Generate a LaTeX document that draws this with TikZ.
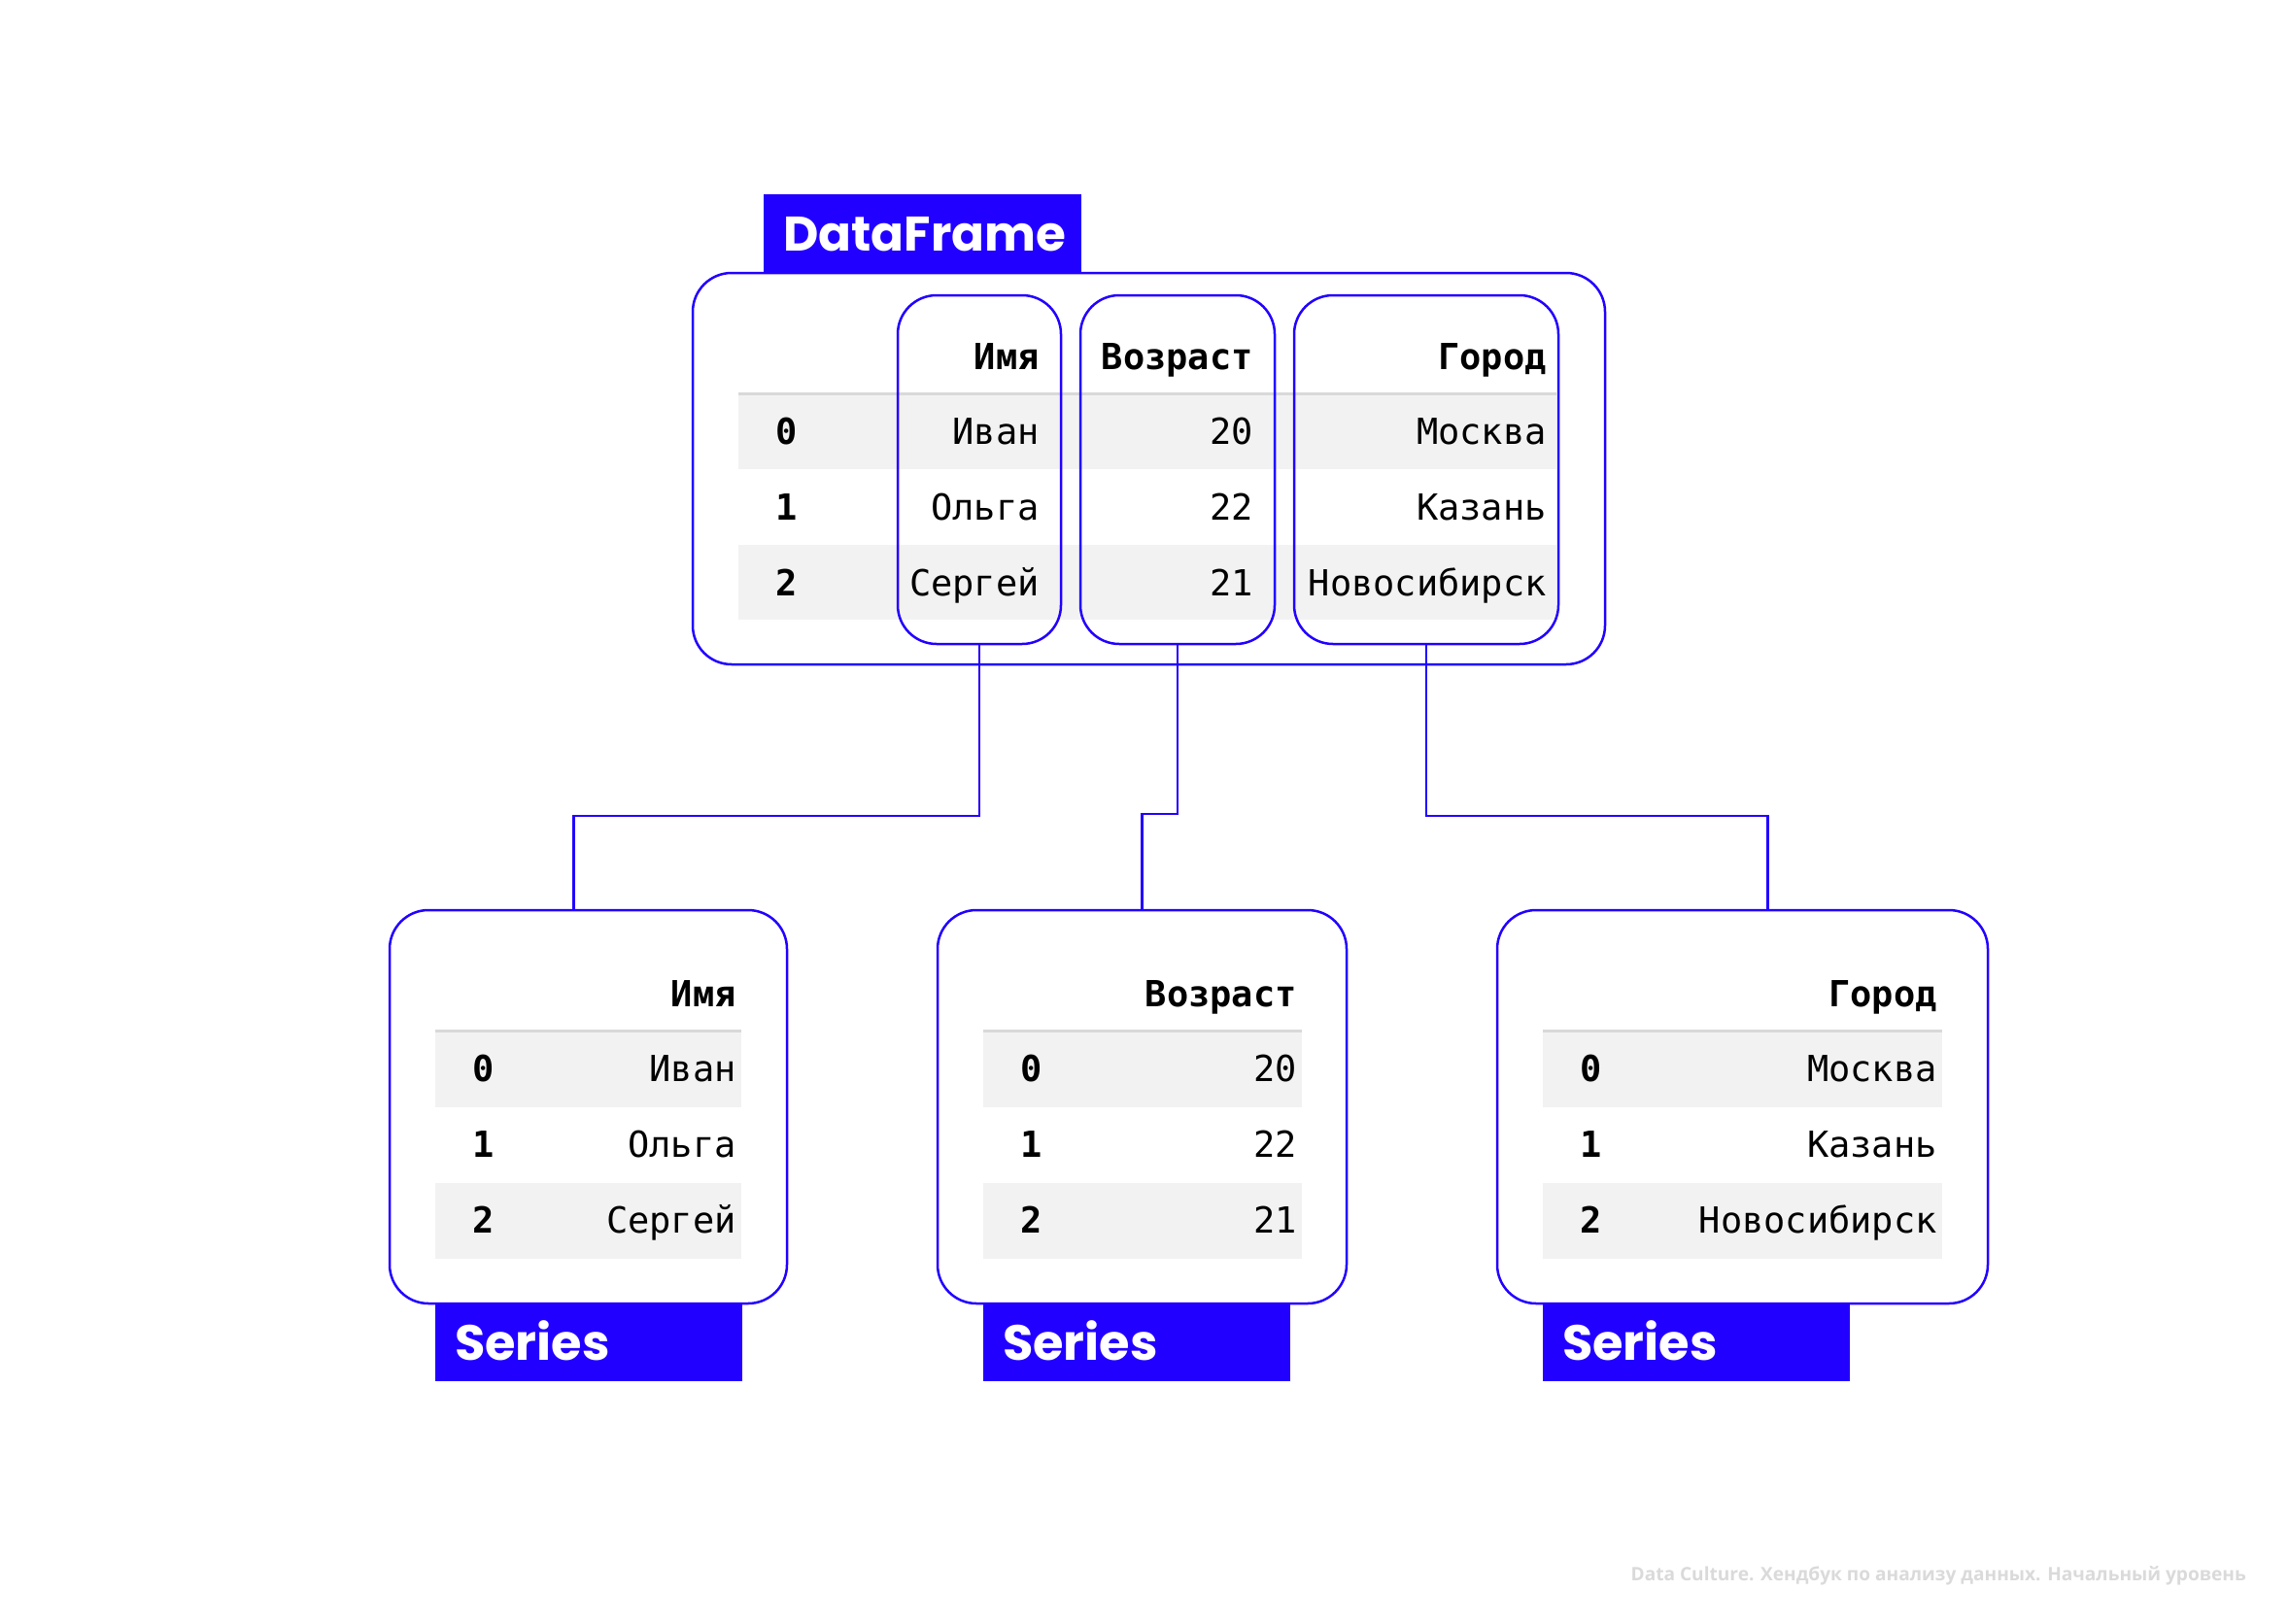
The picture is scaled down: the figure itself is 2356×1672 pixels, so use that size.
\documentclass[tikz,border=0pt]{standalone}
\usepackage{fontspec}
\usepackage{tikz}
\setmonofont{DejaVu Sans Mono}
\newfontfamily\tagfont{Poppins}
\newfontfamily\creditfont{Open Sans}
\definecolor{dcblue}{RGB}{34,0,255}
\definecolor{stripegray}{RGB}{242,242,242}
\definecolor{rulegray}{RGB}{217,217,217}
\definecolor{creditgray}{RGB}{218,218,218}

\begin{document}
\begin{tikzpicture}[
x=1pt,y=-1pt,
frame/.style={
  draw=dcblue,
  line width=2.5pt,
  rounded corners=40pt,
  inner sep=0pt
},
tag/.style={
  fill=dcblue,
  text=white,
  font=\tagfont\bfseries\fontsize{51}{60}\selectfont,
  anchor=north west,
  inner xsep=20pt,
  inner ysep=0pt,
  minimum height=80pt,
  text height=37pt,
  text depth=0pt,
  align=left
},
head/.style={
  font=\ttfamily\bfseries\fontsize{37}{44}\selectfont,
  anchor=base east,
  inner sep=0pt
},
idx/.style={
  font=\ttfamily\bfseries\fontsize{37}{44}\selectfont,
  anchor=base,
  inner sep=0pt
},
val/.style={
  font=\ttfamily\fontsize{37}{44}\selectfont,
  anchor=base east,
  inner sep=0pt
},
stripe/.style={fill=stripegray},
hrule/.style={draw=rulegray,line width=3pt},
link/.style={draw=dcblue,line width=2.2pt},
credit/.style={
  font=\creditfont\bfseries\fontsize{19.1}{23}\selectfont,
  text=creditgray,
  anchor=east,
  inner sep=0pt
}
]
\path[fill=white] (0,0) rectangle (2356,1672);

% DataFrame table
\fill[stripe] (760,404) rectangle (1602,483);
\fill[stripe] (760,561) rectangle (1602,638);
\draw[hrule] (760,405) -- (1602,405);

\node[head] (hname) at (1070,380) {Имя};
\node[head] (hage) at (1290,380) {Возраст};
\node[head] (hcity) at (1592,380) {Город};

\foreach \i/\y/\a/\b/\c in {0/457.5/Иван/20/Москва,1/535.5/Ольга/22/Казань,2/613.5/Сергей/21/Новосибирск} {
  \node[idx] (dfi\i) at (810,\y) {\i};
  \node[val] (dfa\i) at (1070,\y) {\a};
  \node[val] (dfb\i) at (1290,\y) {\b};
  \node[val] (dfc\i) at (1592,\y) {\c};
}

\node[frame,minimum width=939pt,minimum height=403pt] 
  (df) at (1182.5,482.5) {};
\node[frame,minimum width=168pt,minimum height=359pt] 
  (colname) at (1008,483.5) {};
\node[frame,minimum width=200pt,minimum height=359pt] 
  (colage) at (1212,483.5) {};
\node[frame,minimum width=272pt,minimum height=359pt] 
  (colcity) at (1468,483.5) {};
\node[tag,text width=287pt,font=\tagfont\bfseries\fontsize{50}{60}\selectfont] 
  (dftag) at (786,200) {DataFrame};

% Series tables
\foreach \s/\cx/\w/\tl/\tr/\hd/\a/\b/\c in {
  name/605.5/409/448/763/Имя/Иван/Ольга/Сергей,
  age/1175.5/421/1012/1340/Возраст/20/22/21,
  city/1793.5/505/1588/1999/Город/Москва/Казань/Новосибирск} {
  \fill[stripe] (\tl,1060) rectangle (\tr,1140);
  \fill[stripe] (\tl,1218) rectangle (\tr,1296);
  \draw[hrule] (\tl,1061) -- (\tr,1061);
  \node[head] (h\s) at ({\tr-5},1036) {\hd};
  \node[idx] (i\s0) at ({\tl+50},1113) {0};
  \node[idx] (i\s1) at ({\tl+50},1191.5) {1};
  \node[idx] (i\s2) at ({\tl+50},1269.5) {2};
  \node[val] (v\s0) at ({\tr-5},1113) {\a};
  \node[val] (v\s1) at ({\tr-5},1191.5) {\b};
  \node[val] (v\s2) at ({\tr-5},1269.5) {\c};
  \node[frame,minimum width=\w pt,minimum height=405pt] 
    (s\s) at (\cx,1139.5) {};
  \node[tag,text width=276pt] (t\s) at (\tl,1342) {Series};
}

\draw[link] (colname.south) -- ++(0,176) -| ([xshift=-15pt]sname.north);
\draw[link] (colage.south) -- ++(0,174) -| (sage.north);
\draw[link] (colcity.south) -- ++(0,176) -| ([xshift=26pt]scity.north);

\node[credit] (note) at (2312,1622) 
  {Data Culture. Хендбук по анализу данных. Начальный уровень};

\end{tikzpicture}
\end{document}
